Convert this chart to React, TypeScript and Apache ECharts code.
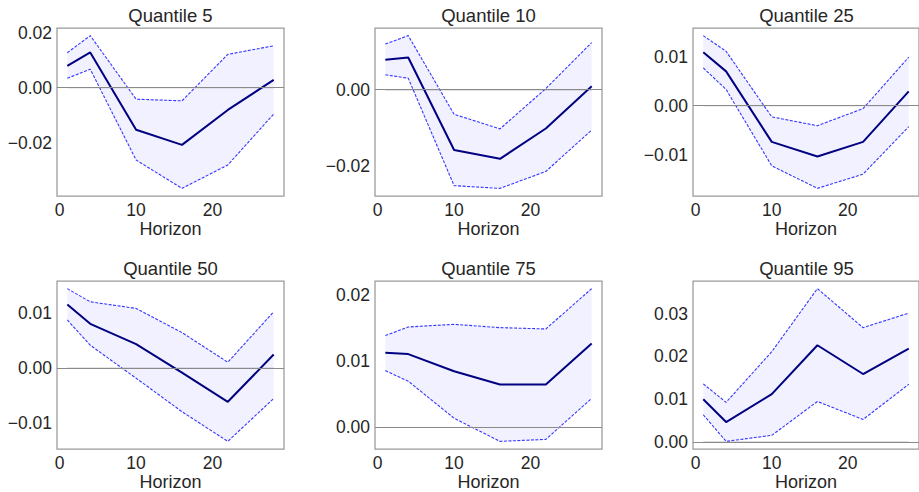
import React, { useEffect, useRef } from "react";
import * as echarts from "echarts";

const HORIZON = [1, 4, 10, 16, 22, 28];
const QUANTILES = [5, 10, 25, 50, 75, 95];

const Q5_IRF = [0.0079, 0.0128, -0.0153, -0.0208, -0.0081, 0.0028];
const Q5_UPPER = [0.0127, 0.0189, -0.0042, -0.0048, 0.0121, 0.0152];
const Q5_LOWER = [0.0034, 0.0067, -0.0263, -0.0366, -0.0281, -0.0096];

const Q10_IRF = [0.0078, 0.0084, -0.0157, -0.018, -0.0101, 0.0009];
const Q10_UPPER = [0.0119, 0.0141, -0.0064, -0.0102, 0.0003, 0.0123];
const Q10_LOWER = [0.0039, 0.003, -0.025, -0.0257, -0.0213, -0.0105];

const Q25_IRF = [0.0109, 0.007, -0.0074, -0.0104, -0.0074, 0.0029];
const Q25_UPPER = [0.0143, 0.0111, -0.0023, -0.0041, -0.0006, 0.0099];
const Q25_LOWER = [0.0077, 0.0033, -0.0123, -0.0169, -0.014, -0.0043];

const Q50_IRF = [0.0116, 0.0081, 0.0044, -0.0008, -0.0061, 0.0025];
const Q50_UPPER = [0.0145, 0.0121, 0.0109, 0.0065, 0.0011, 0.0103];
const Q50_LOWER = [0.0088, 0.0042, -0.0018, -0.0079, -0.0133, -0.0055];

const Q75_IRF = [0.0113, 0.0111, 0.0085, 0.0065, 0.0065, 0.0127];
const Q75_UPPER = [0.0139, 0.0152, 0.0156, 0.0151, 0.0149, 0.021];
const Q75_LOWER = [0.0086, 0.007, 0.0014, -0.0021, -0.0018, 0.0044];

const Q95_IRF = [0.01, 0.0047, 0.0112, 0.0226, 0.0159, 0.0218];
const Q95_UPPER = [0.0136, 0.0093, 0.0211, 0.0358, 0.0267, 0.0301];
const Q95_LOWER = [0.0064, 0.0002, 0.0016, 0.0095, 0.0053, 0.0135];

const X_TICKS = [0, 10, 20];
const Y_TICKS_Q5 = [-0.02, 0, 0.02];
const Y_TICKS_Q10 = [-0.02, 0];
const Y_TICKS_Q25 = [-0.01, 0, 0.01];
const Y_TICKS_Q50 = [-0.01, 0, 0.01];
const Y_TICKS_Q75 = [0, 0.01, 0.02];
const Y_TICKS_Q95 = [0, 0.01, 0.02, 0.03];

const PANELS = [
  { q: QUANTILES[0], irf: Q5_IRF, lo: Q5_LOWER, hi: Q5_UPPER, ticks: Y_TICKS_Q5 },
  { q: QUANTILES[1], irf: Q10_IRF, lo: Q10_LOWER, hi: Q10_UPPER, ticks: Y_TICKS_Q10 },
  { q: QUANTILES[2], irf: Q25_IRF, lo: Q25_LOWER, hi: Q25_UPPER, ticks: Y_TICKS_Q25 },
  { q: QUANTILES[3], irf: Q50_IRF, lo: Q50_LOWER, hi: Q50_UPPER, ticks: Y_TICKS_Q50 },
  { q: QUANTILES[4], irf: Q75_IRF, lo: Q75_LOWER, hi: Q75_UPPER, ticks: Y_TICKS_Q75 },
  { q: QUANTILES[5], irf: Q95_IRF, lo: Q95_LOWER, hi: Q95_UPPER, ticks: Y_TICKS_Q95 },
];

const FONT = "'Liberation Sans', Arial, Helvetica, sans-serif";
const TEXT = "#262626";

export default function App() {
  const ref = useRef<HTMLDivElement>(null);

  useEffect(() => {
    if (!ref.current) return;
    const chart = echarts.init(ref.current, undefined, { renderer: "svg" });

    const colLeft = [57, 375, 693];
    const rowTop = [28, 281];
    const W = 227;
    const H = 168;

    const grids: any[] = [];
    const xAxes: any[] = [];
    const yAxes: any[] = [];
    const series: any[] = [];
    const graphics: any[] = [];

    const xMin = HORIZON[0] - 0.05 * (HORIZON[HORIZON.length - 1] - HORIZON[0]);
    const xMax = HORIZON[HORIZON.length - 1] + 0.05 * (HORIZON[HORIZON.length - 1] - HORIZON[0]);

    PANELS.forEach((p, i) => {
      const r = Math.floor(i / 3);
      const c = i % 3;
      const left = colLeft[c];
      const top = rowTop[r];
      const lo = Math.min(...p.lo);
      const hi = Math.max(...p.hi);
      const pad = 0.05 * (hi - lo);

      grids.push({
        left,
        top,
        width: W,
        height: H,
        show: true,
        borderColor: "#9a9a9a",
        borderWidth: 1.25,
        backgroundColor: "transparent",
        containLabel: false,
      });
      xAxes.push({
        type: "value",
        gridIndex: i,
        min: xMin,
        max: xMax,
        axisLine: { show: false },
        axisTick: { show: false },
        splitLine: { show: false },
        axisLabel: {
          customValues: X_TICKS,
          formatter: (v: number) => String(Math.round(v)),
          color: TEXT,
          fontFamily: FONT,
          fontSize: 17.5,
          margin: 5,
        },
        name: "Horizon",
        nameLocation: "middle",
        nameGap: 24,
        nameTextStyle: { color: TEXT, fontFamily: FONT, fontSize: 18 },
      });
      yAxes.push({
        type: "value",
        gridIndex: i,
        min: lo - pad,
        max: hi + pad,
        axisLine: { show: false },
        axisTick: { show: false },
        splitLine: { show: false },
        axisLabel: {
          customValues: p.ticks,
          formatter: (v: number) => v.toFixed(2).replace("-", "\u2212"),
          color: TEXT,
          fontFamily: FONT,
          fontSize: 17.5,
          margin: 5,
        },
      });

      const loArr = p.lo;
      const hiArr = p.hi;
      series.push({
        type: "custom",
        xAxisIndex: i,
        yAxisIndex: i,
        silent: true,
        z: 1,
        data: HORIZON.map((x, k) => [x, loArr[k], hiArr[k]]),
        encode: { x: 0, y: [1, 2] },
        renderItem: (params: any, api: any) => {
          if (params.dataIndex !== 0) return null;
          const upper = HORIZON.map((x, k) => api.coord([x, hiArr[k]]));
          const lower = HORIZON.map((x, k) => api.coord([x, loArr[k]])).reverse();
          return {
            type: "polygon",
            shape: { points: [...upper, ...lower] },
            style: { fill: "rgba(0,0,255,0.055)", stroke: "none" },
            silent: true,
          };
        },
      });
      series.push({
        type: "line",
        xAxisIndex: i,
        yAxisIndex: i,
        data: HORIZON.map((x) => [x, 0]),
        showSymbol: false,
        symbol: "none",
        silent: true,
        z: 2,
        lineStyle: { color: "#8a8a8a", width: 1 },
        markLine: {
          silent: true,
          symbol: "none",
          label: { show: false },
          lineStyle: { color: "#8a8a8a", width: 1, type: "solid" },
          data: [{ yAxis: 0 }],
        },
      });
      [p.hi, p.lo].forEach((band) => {
        series.push({
          type: "line",
          xAxisIndex: i,
          yAxisIndex: i,
          data: HORIZON.map((x, k) => [x, band[k]]),
          symbol: "none",
          silent: true,
          z: 3,
          lineStyle: { color: "rgba(20,20,255,0.85)", width: 1.1, type: [3, 1.5] },
        });
      });
      series.push({
        type: "line",
        xAxisIndex: i,
        yAxisIndex: i,
        data: HORIZON.map((x, k) => [x, p.irf[k]]),
        symbol: "none",
        silent: true,
        z: 4,
        lineStyle: { color: "#000080", width: 2 },
      });

      graphics.push({
        type: "text",
        x: left + W / 2,
        y: top - 13,
        style: {
          text: `Quantile ${p.q}`,
          fill: TEXT,
          font: `18.5px ${FONT}`,
          textAlign: "center",
          textVerticalAlign: "middle",
        },
      });
    });

    chart.setOption({
      animation: false,
      backgroundColor: "#ffffff",
      grid: grids,
      xAxis: xAxes,
      yAxis: yAxes,
      series,
      graphic: graphics,
    });

    return () => chart.dispose();
  }, []);

  return (
    <div
      ref={ref}
      style={{ position: "fixed", left: 0, top: 0, width: 919, height: 492, background: "#fff" }}
    />
  );
}
